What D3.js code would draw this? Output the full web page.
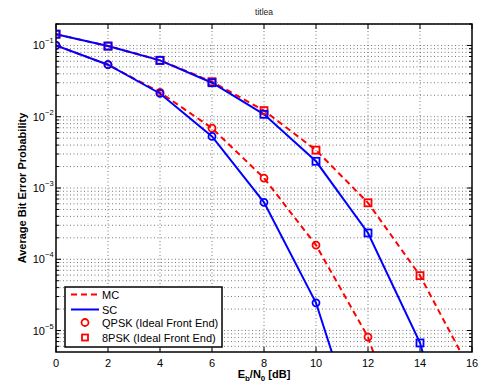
<!DOCTYPE html>
<html>
<head>
<meta charset="utf-8">
<script src="https://cdn.jsdelivr.net/npm/d3@7"></script>
<style>
  body { margin: 0; background: #fff; }
  text { font-family: "Liberation Sans", Arial, sans-serif; }
</style>
</head>
<body>
<div id="app"></div>
<script>
// Eb/N0 points (dB)
const snr = [0, 2, 4, 6, 8, 10, 12, 14, 16];
// average bit error probability
const scQpsk = [0.1, 0.0537, 0.0212, 0.0053, 6.3e-4, 2.45e-5, 1.3e-7];
const mcQpsk = [0.1, 0.0537, 0.022, 0.0069, 1.38e-3, 1.58e-4, 8.1e-6, 6.8e-8];
const sc8psk = [0.144, 0.098, 0.0617, 0.030, 0.0108, 2.37e-3, 2.34e-4, 6.7e-6, 1.9e-8];
const mc8psk = [0.144, 0.098, 0.062, 0.031, 0.0122, 3.4e-3, 6.2e-4, 5.9e-5, 2.5e-6];
const xTicks = [0, 2, 4, 6, 8, 10, 12, 14, 16];
const yDecades = [-5, -4, -3, -2, -1];
const legendItems = ["MC", "SC", "QPSK (Ideal Front End)", "8PSK (Ideal Front End)"];

const width = 483, height = 392;
const margin = { top: 24, right: 11, bottom: 40, left: 56 };
const iw = width - margin.left - margin.right;
const ih = height - margin.top - margin.bottom;

const svg = d3.select("#app").append("svg")
  .attr("width", width).attr("height", height);

const x = d3.scaleLinear().domain([0, 16]).range([0, iw]);
const y = d3.scaleLog().domain([5e-6, 0.2]).range([ih, 0]);

const g = svg.append("g").attr("transform", `translate(${margin.left},${margin.top})`);

svg.append("defs").append("clipPath").attr("id", "clip")
  .append("rect").attr("width", iw).attr("height", ih);

// minor / major y values
const yMinor = [];
yDecades.concat([-6]).forEach(e => {
  for (let k = 1; k <= 9; k++) {
    const v = k * Math.pow(10, e);
    if (v >= 5e-6 && v <= 0.2) yMinor.push(v);
  }
});

// grid
const grid = g.append("g").attr("stroke", "#555").attr("stroke-width", 0.8)
  .attr("stroke-dasharray", "1,2.5");
grid.selectAll(".gy").data(yMinor).enter().append("line")
  .attr("x1", 0).attr("x2", iw)
  .attr("y1", d => y(d)).attr("y2", d => y(d));
grid.selectAll(".gx").data(xTicks.slice(1, -1)).enter().append("line")
  .attr("y1", 0).attr("y2", ih)
  .attr("x1", d => x(d)).attr("x2", d => x(d));

// ticks inside on all four sides
const ticks = g.append("g").attr("stroke", "#000").attr("stroke-width", 1);
xTicks.forEach(t => {
  ticks.append("line").attr("x1", x(t)).attr("x2", x(t)).attr("y1", ih).attr("y2", ih - 5);
  ticks.append("line").attr("x1", x(t)).attr("x2", x(t)).attr("y1", 0).attr("y2", 5);
});
yMinor.forEach(v => {
  const major = Math.abs(Math.log10(v) - Math.round(Math.log10(v))) < 1e-9;
  const len = major ? 5 : 3;
  ticks.append("line").attr("x1", 0).attr("x2", len).attr("y1", y(v)).attr("y2", y(v));
  ticks.append("line").attr("x1", iw).attr("x2", iw - len).attr("y1", y(v)).attr("y2", y(v));
});

// series
const line = d3.line().x(d => x(d[0])).y(d => y(d[1]));
const pairs = arr => arr.map((v, i) => [snr[i], v]);

const series = [
  { data: mcQpsk, color: "#ff0000", dash: "6,4", marker: "circle" },
  { data: mc8psk, color: "#ff0000", dash: "6,4", marker: "square" },
  { data: scQpsk, color: "#0000ff", dash: null, marker: "circle" },
  { data: sc8psk, color: "#0000ff", dash: null, marker: "square" }
];

const plot = g.append("g").attr("clip-path", "url(#clip)");
series.forEach(s => {
  plot.append("path").datum(pairs(s.data))
    .attr("d", line).attr("fill", "none")
    .attr("stroke", s.color).attr("stroke-width", 2)
    .attr("stroke-dasharray", s.dash);
});
series.forEach(s => {
  const pts = pairs(s.data);
  if (s.marker === "circle") {
    plot.selectAll(null).data(pts).enter().append("circle")
      .attr("cx", d => x(d[0])).attr("cy", d => y(d[1])).attr("r", 3.5)
      .attr("fill", "none").attr("stroke", s.color).attr("stroke-width", 1.8);
  } else {
    plot.selectAll(null).data(pts).enter().append("rect")
      .attr("x", d => x(d[0]) - 3.5).attr("y", d => y(d[1]) - 3.5)
      .attr("width", 7).attr("height", 7)
      .attr("fill", "none").attr("stroke", s.color).attr("stroke-width", 1.8);
  }
});

// box
g.append("rect").attr("width", iw).attr("height", ih)
  .attr("fill", "none").attr("stroke", "#000").attr("stroke-width", 1.5);

// x tick labels
g.selectAll(".xl").data(xTicks).enter().append("text")
  .attr("x", d => x(d)).attr("y", ih + 15)
  .attr("text-anchor", "middle").attr("font-size", 11).text(d => d);

// y tick labels 10^n
yDecades.forEach(e => {
  const yy = y(Math.pow(10, e));
  g.append("text").attr("x", -11).attr("y", yy + 4)
    .attr("text-anchor", "end").attr("font-size", 11).text("10");
  g.append("text").attr("x", -11).attr("y", yy - 2)
    .attr("text-anchor", "start").attr("font-size", 7.5).text("\u2212" + (-e));
});

// axis labels
const xl = svg.append("text")
  .attr("x", margin.left + iw / 2).attr("y", height - 14)
  .attr("text-anchor", "middle").attr("font-size", 11).attr("font-weight", "bold");
xl.append("tspan").text("E");
xl.append("tspan").attr("font-size", 8).attr("dy", 3).text("b");
xl.append("tspan").attr("dy", -3).text("/N");
xl.append("tspan").attr("font-size", 8).attr("dy", 3).text("0");
xl.append("tspan").attr("dy", -3).text(" [dB]");

svg.append("text")
  .attr("transform", `translate(26,${margin.top + ih / 2}) rotate(-90)`)
  .attr("text-anchor", "middle").attr("font-size", 11).attr("font-weight", "bold")
  .text("Average Bit Error Probability");

// title
svg.append("text").attr("x", margin.left + iw / 2).attr("y", 15)
  .attr("text-anchor", "middle").attr("font-size", 8.5).attr("fill", "#222")
  .text("titlea");

// legend
const lg = svg.append("g").attr("transform", "translate(65,287)");
lg.append("rect").attr("width", 157).attr("height", 60)
  .attr("fill", "#fff").attr("stroke", "#000").attr("stroke-width", 1.5);
const rowY = [7.5, 22.5, 35.5, 50.5];
legendItems.forEach((t, i) => {
  lg.append("text").attr("x", 37).attr("y", rowY[i] + 4)
    .attr("font-size", 11).text(t);
});
lg.append("line").attr("x1", 6).attr("x2", 34).attr("y1", rowY[0]).attr("y2", rowY[0])
  .attr("stroke", "#ff0000").attr("stroke-width", 2).attr("stroke-dasharray", "6,4");
lg.append("line").attr("x1", 6).attr("x2", 34).attr("y1", rowY[1]).attr("y2", rowY[1])
  .attr("stroke", "#0000ff").attr("stroke-width", 2);
lg.append("circle").attr("cx", 20).attr("cy", rowY[2]).attr("r", 3.5)
  .attr("fill", "none").attr("stroke", "#ff0000").attr("stroke-width", 1.8);
lg.append("rect").attr("x", 17).attr("y", rowY[3] - 3).attr("width", 6).attr("height", 6)
  .attr("fill", "none").attr("stroke", "#ff0000").attr("stroke-width", 1.8);
</script>
</body>
</html>
